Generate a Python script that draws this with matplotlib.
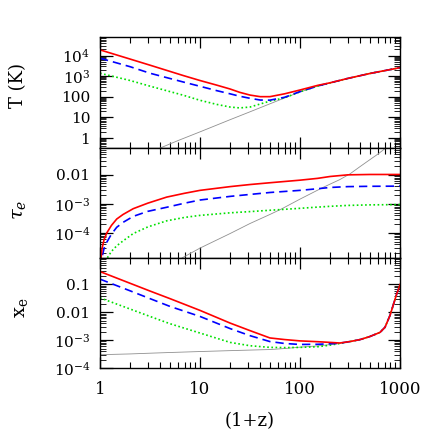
import numpy as np
import matplotlib
matplotlib.use("Agg")
import matplotlib.pyplot as plt
from matplotlib.ticker import FixedLocator, FixedFormatter, LogLocator, NullFormatter

plt.rcParams['font.family'] = ['DejaVu Serif']
plt.rcParams['mathtext.fontset'] = 'dejavuserif'

# ---------------- data ----------------
# Panel 1: temperature
zT = [1, 2, 3.16, 6.8, 10, 14.7, 20, 25, 31.6, 40, 50, 70, 100, 150, 200, 300, 500, 1000]
T_red = [19000, 6800, 3440, 1080, 620, 370, 240, 165, 122, 102, 102, 140, 215, 360, 480,
         780, 1360, 2600]
T_blue = [7500, 2900, 1400, 525, 325, 200, 140, 107, 85, 70, 69, 95, 180, 335, 478,
          780, 1360, 2600]
T_green = [1400, 620, 330, 120, 68, 43, 32, 29, 32, 45, 62, 90, 175, 332, 476,
           780, 1360, 2600]
zT_gray = [4, 6, 10, 20, 30, 46, 70, 100, 150, 200, 300, 500, 1000]
T_gray = [0.33, 0.75, 2.0, 7.8, 17, 39, 88, 172, 330, 475, 780, 1360, 2600]

# Panel 2: optical depth
z_tau = [1.02, 1.05, 1.1, 1.17, 1.3, 1.47, 1.7, 2.15, 3, 4.64, 7, 10, 20, 31.6,
         50, 100, 150, 200, 300, 500, 1000]
tau_red = [1.2e-5, 3e-5, 6e-5, 1e-4, 1.8e-4, 3e-4, 4.3e-4, 6.8e-4, 1.05e-3, 1.7e-3,
           2.3e-3, 2.9e-3, 3.9e-3, 4.6e-3, 5.3e-3, 6.5e-3, 7.5e-3, 8.7e-3, 9.9e-3,
           1.02e-2, 1.02e-2]
tau_blue = [6e-6, 1.5e-5, 3e-5, 4.8e-5, 9e-5, 1.56e-4, 2.3e-4, 3.7e-4, 5.5e-4, 7.6e-4,
            1.05e-3, 1.35e-3, 1.8e-3, 2.1e-3, 2.45e-3, 2.9e-3, 3.3e-3, 3.65e-3, 3.9e-3,
            4.0e-3, 4.05e-3]
tau_green = [1.5e-6, 3.8e-6, 7.7e-6, 1.3e-5, 2.3e-5, 3.6e-5, 5.3e-5, 9.5e-5, 1.6e-4,
             2.6e-4, 3.4e-4, 4e-4, 4.9e-4, 5.4e-4, 6e-4, 7e-4, 7.7e-4, 8.2e-4, 8.8e-4,
             9.2e-4, 9.4e-4]
z_tau_gray = [6.6, 10, 20, 31.6, 50, 65.6, 100, 171, 250, 316, 400, 500, 600, 708, 800]
tau_gray = [1.37e-5, 3e-5, 9.5e-5, 2.1e-4, 4.3e-4, 6.7e-4, 1.45e-3, 3.7e-3, 6.8e-3,
            0.0107, 0.0192, 0.033, 0.051, 0.079, 0.11]

# Panel 3: ionized fraction
z_x = [1, 2, 3.16, 5, 10, 20, 31.6, 50, 70, 100, 150, 200, 250,
       316, 400, 500, 631, 708, 794, 855, 930, 984, 1000]
x_common = [0.00089, 0.00105, 0.00135, 0.0019, 0.0029, 0.0077, 0.018, 0.047, 0.082, 0.1]
x_red = [0.29, 0.11, 0.058, 0.031, 0.0117, 0.0041, 0.0022, 0.0012, 0.00105, 0.00094,
         0.00088, 0.00083, 0.00079] + x_common
x_blue = [0.155, 0.059, 0.031, 0.0163, 0.0071, 0.0026, 0.00145, 0.00089, 0.00076, 0.0007,
          0.00071, 0.00074, 0.00078] + x_common
x_green = [0.033, 0.0131, 0.0071, 0.0039, 0.0018, 0.00083, 0.00063, 0.00055, 0.00054,
           0.00055, 0.00058, 0.00066, 0.00076] + x_common
x_gray = [0.0003, 0.00032, 0.00034, 0.00036, 0.00039, 0.00042, 0.00044, 0.00046, 0.0005,
          0.00056, 0.00062, 0.00069, 0.00076] + x_common

xticks = [1, 10, 100, 1000]
xticklabels = ['1', '10', '100', '1000']
T_ticks = [1, 10, 100, 1e3, 1e4]
T_labels = ['1', '10', '100', r'$10^{3}$', r'$10^{4}$']
tau_ticks = [1e-4, 1e-3, 1e-2]
tau_labels = [r'$10^{-4}$', r'$10^{-3}$', '0.01']
x_ticks = [1e-4, 1e-3, 1e-2, 0.1]
x_labels = [r'$10^{-4}$', r'$10^{-3}$', '0.01', '0.1']

# ---------------- figure ----------------
W = 436
fig = plt.figure(figsize=(4.36, 4.36), dpi=100)
left, right = 100 / W, 400 / W
def frac(top, bot):
    return [left, 1 - bot / W, right - left, (bot - top) / W]

ax1 = fig.add_axes(frac(37, 148))
ax2 = fig.add_axes(frac(148, 258), sharex=ax1)
ax3 = fig.add_axes(frac(258, 368), sharex=ax1)

red = dict(color='#ff0000', lw=1.2, ls='-')
blue = dict(color='#0000ff', lw=1.2, ls=(0, (5, 3)))
green = dict(color='#00e000', lw=1.2, ls=(0, (1, 1.5)))
gray = dict(color='#909090', lw=0.6, ls='-')

ax1.plot(zT_gray, T_gray, **gray)
ax1.plot(zT, T_green, **green)
ax1.plot(zT, T_blue, **blue)
ax1.plot(zT, T_red, **red)

ax2.plot(z_tau_gray, tau_gray, **gray)
ax2.plot(z_tau, tau_green, **green)
ax2.plot(z_tau, tau_blue, **blue)
ax2.plot(z_tau, tau_red, **red)

ax3.plot(z_x, x_gray, **gray)
ax3.plot(z_x, x_green, **green)
ax3.plot(z_x, x_blue, **blue)
ax3.plot(z_x, x_red, **red)

ax1.set_ylim(0.33, 8e4)
ax2.set_ylim(1.37e-5, 0.083)
ax3.set_ylim(1e-4, 0.89)

for ax, yt, yl in [(ax1, T_ticks, T_labels), (ax2, tau_ticks, tau_labels), (ax3, x_ticks, x_labels)]:
    ax.set_xscale('log')
    ax.set_yscale('log')
    ax.set_xlim(1, 1000)
    ax.yaxis.set_major_locator(FixedLocator(yt))
    ax.yaxis.set_major_formatter(FixedFormatter(yl))
    ax.yaxis.set_minor_locator(LogLocator(base=10, subs=np.arange(2, 10), numticks=20))
    ax.yaxis.set_minor_formatter(NullFormatter())
    ax.tick_params(which='both', direction='in', top=True, right=True, color='black')
    ax.tick_params(axis='x', which='major', length=8, width=0.9)
    ax.tick_params(axis='x', which='minor', length=4, width=0.8)
    ax.tick_params(axis='y', which='major', length=9, width=0.9, pad=7, labelsize=11)
    ax.tick_params(axis='y', which='minor', length=4.5, width=0.6)
    for s in ax.spines.values():
        s.set_linewidth(1.0)

ax3.xaxis.set_major_locator(FixedLocator(xticks))
ax3.xaxis.set_major_formatter(FixedFormatter(xticklabels))
ax3.xaxis.set_minor_locator(LogLocator(base=10, subs=np.arange(2, 10), numticks=20))
ax3.xaxis.set_minor_formatter(NullFormatter())
ax3.tick_params(axis='x', labelsize=12, pad=9)
for ax in (ax1, ax2):
    ax.tick_params(axis='x', labelbottom=False)

fig.text(18 / W, 1 - 86 / W, 'T (K)', rotation=90, ha='center', va='center', fontsize=13)
fig.text(19 / W, 1 - 210 / W, r'$\tau_e$', rotation=90, ha='center', va='center', fontsize=14)
fig.text(21 / W, 1 - 308 / W, r'$\mathrm{x_e}$', rotation=90, ha='center', va='center', fontsize=14)
fig.text(250 / W, 1 - 421 / W, '(1+z)', ha='center', va='center', fontsize=13)

fig.savefig('out.png', dpi=100)
